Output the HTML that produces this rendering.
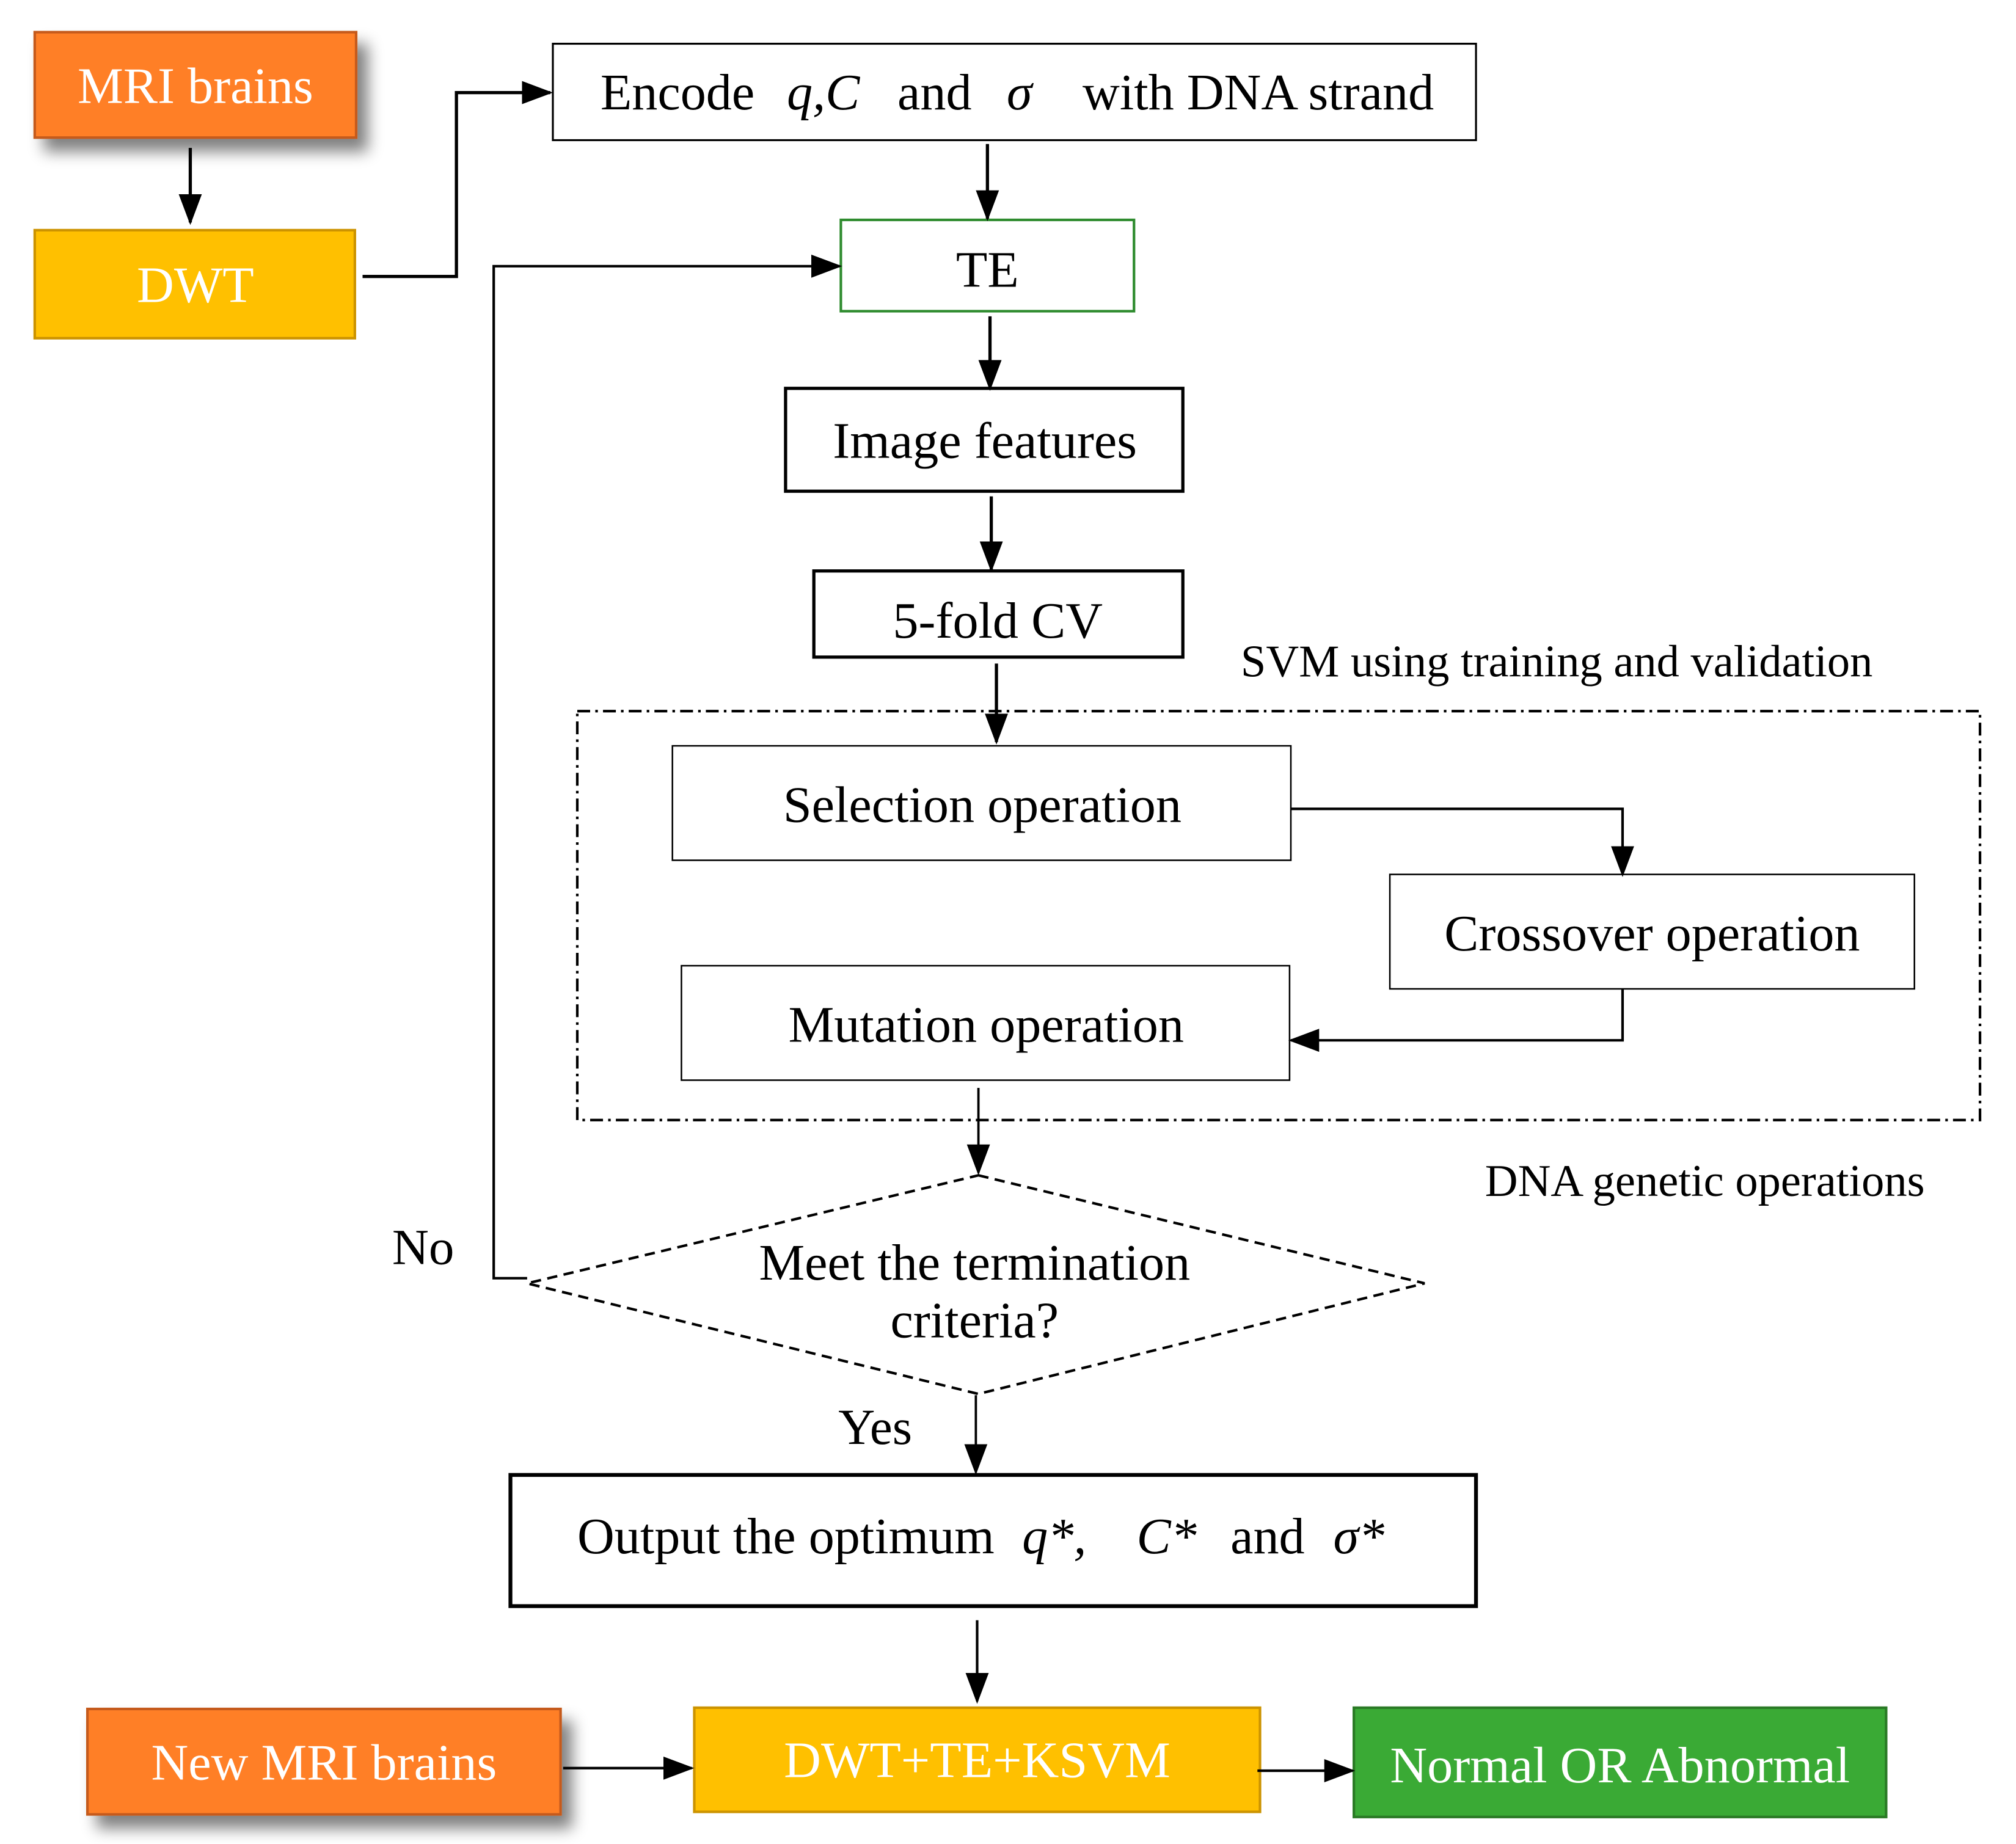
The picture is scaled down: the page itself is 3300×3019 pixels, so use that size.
<!DOCTYPE html>
<html><head><meta charset="utf-8"><style>
html,body{margin:0;padding:0;background:#fff;}
svg{display:block;}
text{font-family:"Liberation Serif",serif;}
</style></head><body>
<svg width="3300" height="3019" viewBox="0 0 1568 1434" preserveAspectRatio="none" xmlns="http://www.w3.org/2000/svg">
<defs>
<marker id="ab" markerWidth="24" markerHeight="24" refX="22" refY="12" orient="auto" markerUnits="userSpaceOnUse" viewBox="0 0 24 24">
<path d="M0,3 L24,12 L0,21 z" fill="#000"/></marker>
<filter id="sh" x="-20%" y="-20%" width="150%" height="160%"><feGaussianBlur in="SourceAlpha" stdDeviation="6"/><feOffset dx="8" dy="10"/><feComponentTransfer><feFuncA type="linear" slope="0.5"/></feComponentTransfer><feMerge><feMergeNode/><feMergeNode in="SourceGraphic"/></feMerge></filter>
</defs>
<g stroke="#000" fill="none" stroke-width="2.5">
<rect x="27" y="25" width="250" height="82" fill="#FF7F27" stroke="#c55a1a" stroke-width="2" filter="url(#sh)"/>
<rect x="27" y="179" width="249" height="84" fill="#FFC000" stroke="#cc9300" stroke-width="2"/>
<rect x="68" y="1329" width="368" height="82" fill="#FF7F27" stroke="#c55a1a" stroke-width="2" filter="url(#sh)"/>
<rect x="540" y="1328" width="440" height="81" fill="#FFC000" stroke="#cc9300" stroke-width="2"/>
<rect x="1053" y="1328" width="414" height="85" fill="#3AAA35" stroke="#2a7a25" stroke-width="2"/>
<rect x="430" y="34" width="718" height="75" stroke-width="1.5"/>
<rect x="654" y="171" width="228" height="71" stroke="#2e8b2e" stroke-width="2"/>
<rect x="611" y="302" width="309" height="80" stroke-width="2.5"/>
<rect x="633" y="444" width="287" height="67" stroke-width="2.5"/>
<rect x="449" y="553" width="1091" height="318" stroke-width="2" stroke-dasharray="10,4,2,4"/>
<rect x="523" y="580" width="481" height="89" stroke-width="1.2"/>
<rect x="1081" y="680" width="408" height="89" stroke-width="1.2"/>
<rect x="530" y="751" width="473" height="89" stroke-width="1.2"/>
<polygon points="761,914 1108,998 761,1084 410,998" stroke-width="2" stroke-dasharray="8,5"/>
<rect x="397" y="1147" width="751" height="102" stroke-width="3"/>
<line x1="148" y1="115" x2="148" y2="173" marker-end="url(#ab)"/>
<polyline points="282,215 355,215 355,72 428,72" marker-end="url(#ab)"/>
<line x1="768" y1="112" x2="768" y2="170" marker-end="url(#ab)"/>
<polyline points="410,994 384,994 384,207 653,207" stroke-width="2" marker-end="url(#ab)"/>
<line x1="770" y1="246" x2="770" y2="302" marker-end="url(#ab)"/>
<line x1="771" y1="386" x2="771" y2="443" marker-end="url(#ab)"/>
<line x1="775" y1="516" x2="775" y2="577" marker-end="url(#ab)"/>
<polyline points="1004,629 1262,629 1262,680" stroke-width="2" marker-end="url(#ab)"/>
<polyline points="1262,769 1262,809 1004,809" stroke-width="2" marker-end="url(#ab)"/>
<line x1="761" y1="846" x2="761" y2="912" stroke-width="1.8" marker-end="url(#ab)"/>
<line x1="759" y1="1085" x2="759" y2="1145" stroke-width="1.8" marker-end="url(#ab)"/>
<line x1="760" y1="1260" x2="760" y2="1323" stroke-width="2" marker-end="url(#ab)"/>
<line x1="438" y1="1375" x2="538" y2="1375" stroke-width="2" marker-end="url(#ab)"/>
<line x1="978" y1="1377" x2="1052" y2="1377" stroke-width="2" marker-end="url(#ab)"/>
</g>
<g font-size="40" text-anchor="middle" fill="#000">
<text x="152" y="80" fill="#fff">MRI brains</text>
<text x="152" y="235" fill="#fff">DWT</text>
<text x="252" y="1384" fill="#fff">New MRI brains</text>
<text x="760" y="1382" fill="#fff">DWT+TE+KSVM</text>
<text x="1260" y="1386" fill="#fff">Normal OR Abnormal</text>
<text x="768" y="223">TE</text>
<text x="766" y="356">Image features</text>
<text x="776" y="496">5-fold CV</text>
<text x="764" y="639">Selection operation</text>
<text x="1285" y="739">Crossover operation</text>
<text x="767" y="810">Mutation operation</text>
<text x="758" y="995">Meet the termination</text>
<text x="758" y="1040">criteria?</text>
</g>
<g font-size="40" fill="#000">
<text x="467" y="85">Encode</text>
<text x="612" y="85" font-style="italic">q,C</text>
<text x="698" y="85">and</text>
<text x="783" y="85" font-style="italic">σ</text>
<text x="842" y="85">with DNA strand</text>
<text x="449" y="1208">Output the optimum</text>
<text x="795" y="1208" font-style="italic">q*,</text>
<text x="884" y="1208" font-style="italic">C*</text>
<text x="957" y="1208">and</text>
<text x="1037" y="1208" font-style="italic">σ*</text>
<text x="305" y="983" font-size="39.5">No</text>
<text x="652" y="1123" font-size="39.5">Yes</text>
<text x="965" y="526" font-size="35.4">SVM using training and validation</text>
<text x="1155" y="930" font-size="35.4">DNA genetic operations</text>
</g>
</svg>
</body></html>
